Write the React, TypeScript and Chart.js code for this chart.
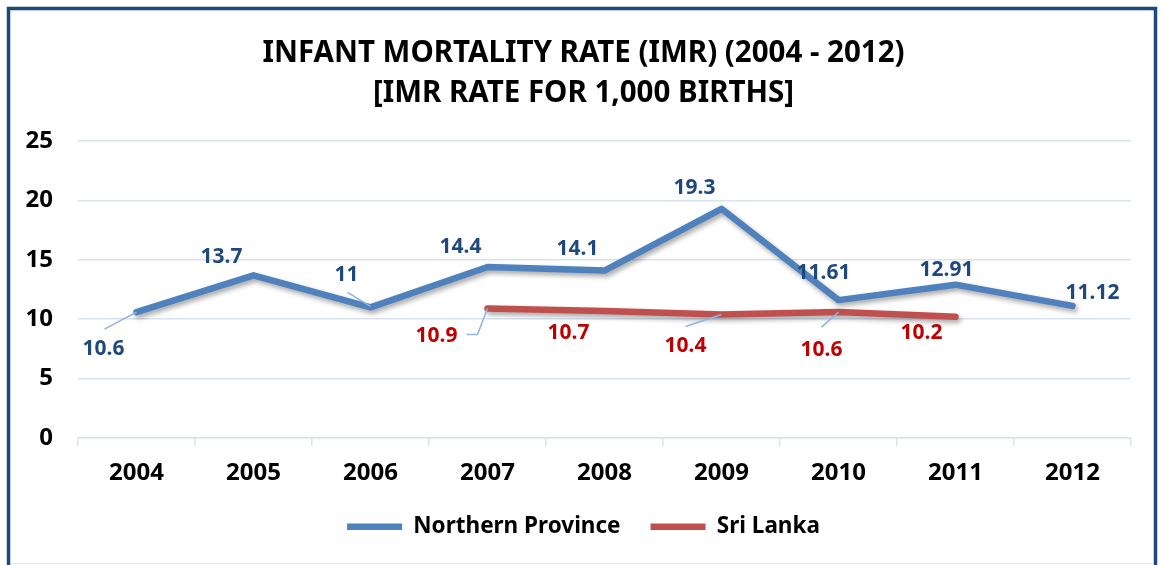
import { useEffect, useRef } from "react";
import { Chart, registerables } from "chart.js";

Chart.register(...registerables);

// ---- data ----
const years = ["2004", "2005", "2006", "2007", "2008", "2009", "2010", "2011", "2012"];
const northernProvince = [10.6, 13.7, 11, 14.4, 14.1, 19.3, 11.61, 12.91, 11.12];
const sriLanka = [null, null, null, 10.9, 10.7, 10.4, 10.6, 10.2, null];
const yMin = 0;
const yMax = 25;
const yStep = 5;
const titleLines = ["INFANT MORTALITY RATE (IMR) (2004 - 2012)", "[IMR RATE FOR 1,000 BIRTHS]"];
const seriesNames = ["Northern Province", "Sri Lanka"];

// ---- label placement (pixel offsets from each point) ----
const npLabelOffsets: (number[] | null)[] = [[-33, 37], [-32, -18], [-24, -32], [-27, -20], [-27, -22], [-27, -21], [-15, -27], [-9, -15], [20, -13]];
const npLeaders: (number[][] | null)[] = [[[-32, 17], [0, 0]], null, [[-23, -15], [0, -1]], null, null, null, null, null, null];
const slLabelOffsets: (number[] | null)[] = [null, null, null, [-51, 27], [-36, 22], [-36, 32], [-17, 38], [-34, 16], null];
const slLeaders: (number[][] | null)[] = [null, null, null, [[-21, 26], [-10, 26], [0, 0]], null, [[-36, 12], [0, 0]], [[-17, 15], [0, 0]], null, null];

const FONT = "'Noto Sans'";
const BLUE = "#4F81BD";
const RED = "#C0504D";
const BLUE_TEXT = "#1F497D";
const RED_TEXT = "#C00000";
const GRID = "#D9E3F0";

const framePlugin = {
  id: "frame",
  beforeDraw(chart: any) {
    const ctx = chart.ctx;
    ctx.save();
    ctx.fillStyle = "#fff";
    ctx.fillRect(0, 0, chart.width, chart.height);
    ctx.strokeStyle = "#E3E8EE";
    ctx.lineWidth = 1;
    ctx.beginPath();
    ctx.moveTo(10, 563.5);
    ctx.lineTo(1153, 563.5);
    ctx.stroke();
    ctx.strokeStyle = "#1F497D";
    ctx.lineWidth = 3.5;
    ctx.strokeRect(8.5, 8.5, 1147, 620);
    ctx.restore();
  },
};

const shadowPlugin = {
  id: "lineShadow",
  beforeDatasetDraw(chart: any) {
    const ctx = chart.ctx;
    ctx.save();
    ctx.shadowColor = "rgba(0,0,0,0.35)";
    ctx.shadowBlur = 5;
    ctx.shadowOffsetX = 2;
    ctx.shadowOffsetY = 3;
  },
  afterDatasetDraw(chart: any) {
    chart.ctx.restore();
  },
};

const labelsPlugin = {
  id: "pointLabels",
  afterDatasetsDraw(chart: any) {
    const ctx = chart.ctx;
    const cfg = [
      { offsets: npLabelOffsets, leaders: npLeaders, color: BLUE_TEXT },
      { offsets: slLabelOffsets, leaders: slLeaders, color: RED_TEXT },
    ];
    ctx.save();
    chart.data.datasets.forEach((ds: any, di: number) => {
      const meta = chart.getDatasetMeta(di);
      const c = cfg[di];
      ds.data.forEach((v: any, i: number) => {
        if (v === null || v === undefined) return;
        const pt = meta.data[i];
        const off = c.offsets[i];
        if (!pt || !off) return;
        const lead = c.leaders[i];
        if (lead) {
          ctx.strokeStyle = "#8EB4E3";
          ctx.lineWidth = 1.5;
          ctx.beginPath();
          lead.forEach((p, k) => {
            if (k === 0) ctx.moveTo(pt.x + p[0], pt.y + p[1]);
            else ctx.lineTo(pt.x + p[0], pt.y + p[1]);
          });
          ctx.stroke();
        }
        ctx.fillStyle = c.color;
        ctx.font = `bold 21px ${FONT}`;
        ctx.textAlign = "center";
        ctx.textBaseline = "middle";
        ctx.fillText(String(v), pt.x + off[0], pt.y + off[1]);
      });
    });
    ctx.restore();
  },
};

export default function App() {
  const ref = useRef<HTMLCanvasElement | null>(null);

  useEffect(() => {
    if (!ref.current) return;
    const chart = new Chart(ref.current, {
      type: "line",
      data: {
        labels: years,
        datasets: [
          {
            label: seriesNames[0],
            data: northernProvince,
            borderColor: BLUE,
            backgroundColor: BLUE,
            borderWidth: 6.5,
            pointRadius: 0,
            pointHoverRadius: 0,
            tension: 0,
            borderCapStyle: "round",
            borderJoinStyle: "round",
          },
          {
            label: seriesNames[1],
            data: sriLanka,
            borderColor: RED,
            backgroundColor: RED,
            borderWidth: 6.5,
            pointRadius: 0,
            pointHoverRadius: 0,
            tension: 0,
            borderCapStyle: "round",
            borderJoinStyle: "round",
          },
        ],
      },
      options: {
        animation: false,
        responsive: false,
        devicePixelRatio: 1,
        layout: { padding: { left: 24, right: 18, top: 10, bottom: 17 } },
        plugins: {
          title: {
            display: true,
            text: titleLines,
            color: "#000",
            font: { family: FONT, weight: "bold", size: 29.5, lineHeight: 1.34 },
            padding: { top: 24, bottom: 28 },
          },
          legend: {
            display: true,
            position: "bottom",
            labels: {
              color: "#000",
              font: { family: FONT, weight: "bold", size: 22.5 },
              usePointStyle: true,
              pointStyle: "line",
              pointStyleWidth: 55,
              padding: 30,
            },
          },
          tooltip: { enabled: false },
        },
        scales: {
          x: {
            offset: true,
            grid: { offset: true, drawOnChartArea: false, drawTicks: true, tickLength: 8, color: GRID, lineWidth: 1.5 },
            border: { color: GRID, width: 1.5 },
            ticks: { color: "#000", font: { family: FONT, weight: "bold", size: 24 }, padding: 13, maxRotation: 0 },
            afterFit: (s: any) => {
              s.height = 47.5;
            },
          },
          y: {
            min: yMin,
            max: yMax,
            ticks: { stepSize: yStep, color: "#000", font: { family: FONT, weight: "bold", size: 24 }, padding: 25 },
            grid: { color: GRID, lineWidth: 1.5, drawTicks: false },
            border: { display: false },
            afterFit: (s: any) => {
              s.width = 54;
            },
          },
          y2: {
            type: "linear",
            position: "right",
            min: yMin,
            max: yMax,
            grid: { display: false, drawTicks: false },
            border: { display: false },
            ticks: { display: false },
            afterFit: (s: any) => {
              s.width = 12;
            },
          },
        },
      },
      plugins: [framePlugin, shadowPlugin, labelsPlugin],
    } as any);
    return () => chart.destroy();
  }, []);

  return (
    <div style={{ position: "absolute", left: 0, top: 0, width: 1161, height: 565, overflow: "hidden" }}>
      <canvas ref={ref} width={1161} height={565} style={{ width: 1161, height: 565, display: "block" }} />
    </div>
  );
}
